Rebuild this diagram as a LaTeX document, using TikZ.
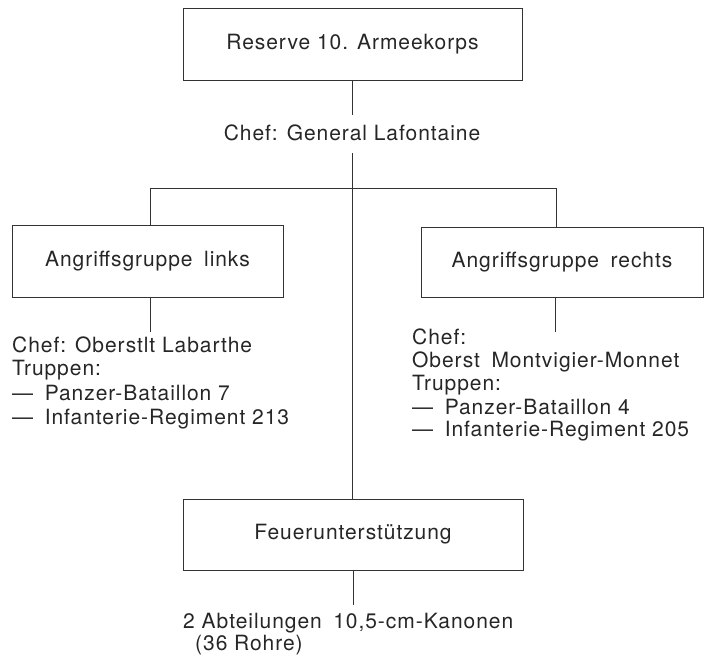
\documentclass[tikz,border=0pt]{standalone}
\usepackage{fontspec}
\setmainfont{TeX Gyre Heros}[LetterSpace=4.5]
\newcommand{\wsp}{\hspace{0.55em}}
\begin{document}
\begin{tikzpicture}[x=1pt,y=-1pt,
  every node/.style={font=\fontsize{21}{23}\selectfont, text=black!85},
  unitbox/.style={draw=black!80, line width=1pt, inner sep=0pt},
  txt/.style={anchor=base west, inner sep=0pt},
  link/.style={draw=black!80, line width=1pt}]
\useasboundingbox (0,0) rectangle (709,657);

% command levels
\node[unitbox, minimum width=339pt, minimum height=72pt] (korps) at (352.5,44) {Reserve 10. Armeekorps};
\node[anchor=base, inner sep=0pt] (kchef) at (352,140) {Chef: General Lafontaine};

\node[unitbox, minimum width=271pt, minimum height=72pt] (links) at (147.5,261) {Angriffsgruppe\wsp links};
\node[unitbox, minimum width=282pt, minimum height=70pt] (rechts) at (562,262) {Angriffsgruppe\wsp rechts};
\node[unitbox, minimum width=340pt, minimum height=71pt] (feuer) at (353,534.5) {Feuerunterstützung};

% left group details
\node[txt] (l1) at (12,352) {Chef: Oberstlt Labarthe};
\node[txt] (l2) at (12,375) {Truppen:};
\node[txt] (l3) at (12,400) {—\wsp Panzer-Bataillon 7};
\node[txt] (l4) at (12,424) {—\wsp Infanterie-Regiment 213};

% right group details
\node[txt] (r1) at (412,344) {Chef:};
\node[txt] (r2) at (412,367) {Oberst\wsp Montvigier-Monnet};
\node[txt] (r3) at (412,390) {Truppen:};
\node[txt] (r4) at (412,414) {—\wsp Panzer-Bataillon 4};
\node[txt] (r5) at (412,436) {—\wsp Infanterie-Regiment 205};

% artillery details
\node[txt] (f1) at (183,628) {2 Abteilungen\wsp 10,5-cm-Kanonen};
\node[txt] (f2) at (195,650) {(36 Rohre)};

% connector end points
\coordinate (kdown) at (352,115);
\coordinate (kup) at (352,153);
\coordinate (lj) at (150,188);
\coordinate (rj) at (556,188);
\coordinate (ldown) at (150,332);
\coordinate (rdown) at (555,332);
\coordinate (fdown) at (353,605);

\draw[link] (korps.south -| kdown) -- (kdown);
\draw[link] (kup) -- (kup |- feuer.north);
\draw[link] (lj) -- (rj);
\draw[link] (lj) -- (lj |- links.north);
\draw[link] (rj) -- (rj |- rechts.north);
\draw[link] (links.south -| ldown) -- (ldown);
\draw[link] (rechts.south -| rdown) -- (rdown);
\draw[link] (feuer.south -| fdown) -- (fdown);
\end{tikzpicture}
\end{document}
